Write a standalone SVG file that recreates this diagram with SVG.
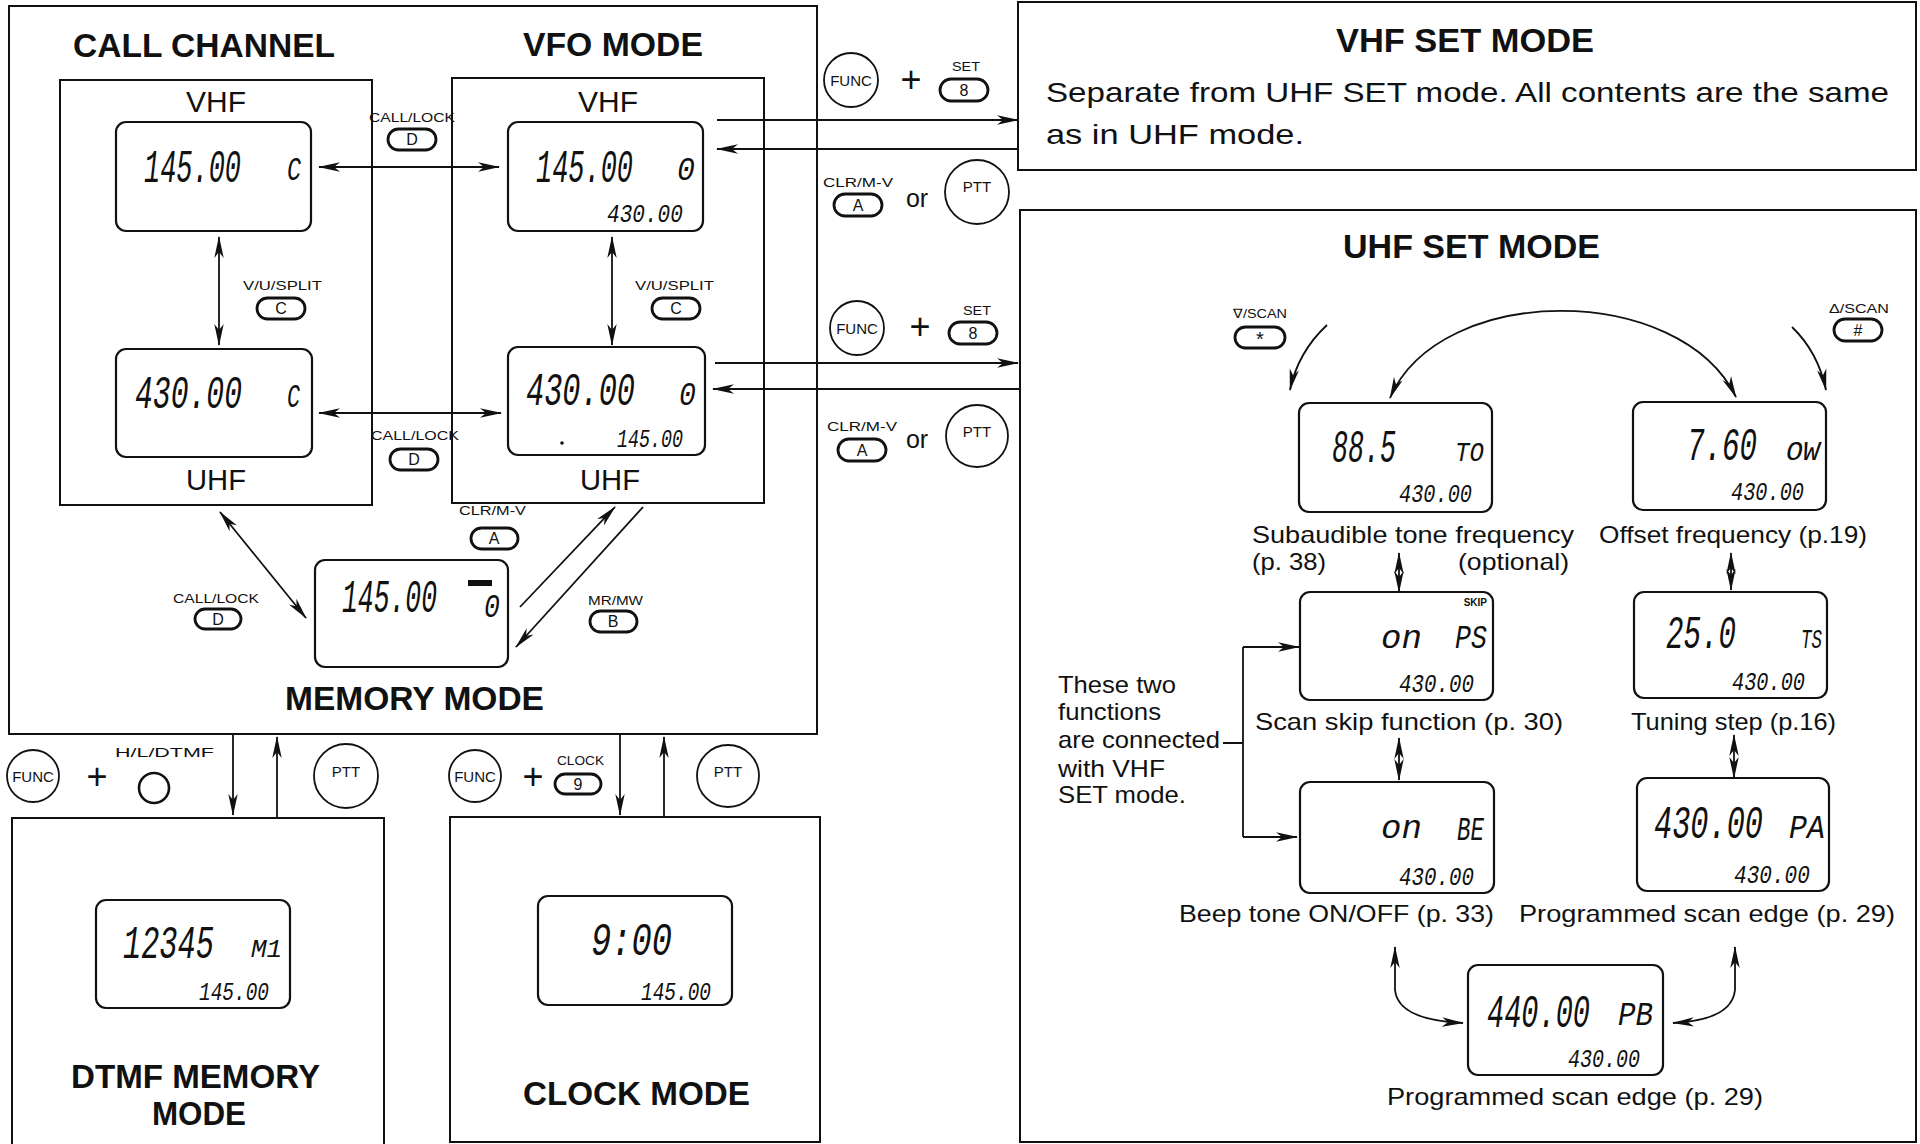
<svg xmlns="http://www.w3.org/2000/svg" width="1920" height="1144" viewBox="0 0 1920 1144">
<defs>
<marker id="ah" viewBox="0 0 22 11" refX="21" refY="5.5" markerWidth="22" markerHeight="11" markerUnits="userSpaceOnUse" orient="auto-start-reverse"><path d="M0,0.8 L22,5.5 L0,10.2 L6,5.5 z" fill="#111"/></marker>
</defs>
<style>
.box{fill:none;stroke:#111;stroke-width:2}
.lcd{fill:#fff;stroke:#111;stroke-width:2.2}
.t{font-family:"Liberation Sans",Arial,sans-serif;fill:#111}
.title{font-weight:bold;font-size:34px}
.lab{font-size:30px}
.cap{font-size:24px}
.key{font-size:13px}
.bl{font-size:16px;text-anchor:middle}
.mid{text-anchor:middle}
.big{font-family:"Liberation Mono","DejaVu Sans Mono",monospace;font-style:italic;font-size:46px;fill:#111}
.sm{font-family:"Liberation Mono","DejaVu Sans Mono",monospace;font-style:italic;font-size:26px;fill:#111}
.mk{font-family:"Liberation Mono","DejaVu Sans Mono",monospace;font-style:italic;font-size:34px;fill:#111}
.mk2{font-family:"Liberation Mono","DejaVu Sans Mono",monospace;font-style:italic;font-size:28px;fill:#111}
.ln{fill:none;stroke:#111;stroke-width:1.8}
.ar{fill:none;stroke:#111;stroke-width:1.8;marker-end:url(#ah)}
.ar2{fill:none;stroke:#111;stroke-width:1.8;marker-start:url(#ah);marker-end:url(#ah)}
.btn{fill:#fff;stroke:#111;stroke-width:2.8}
.circ{fill:#fff;stroke:#111;stroke-width:1.8}
</style>
<rect width="1920" height="1144" fill="#fff"/>

<g id="frames">
<rect class="box" x="9" y="6" width="808" height="728"/>
<rect class="box" x="1018" y="2" width="898" height="168"/>
<rect class="box" x="1020" y="210" width="896" height="932"/>
<path class="box" d="M12,1144 L12,818 L384,818 L384,1144"/>
<rect class="box" x="450" y="817" width="370" height="325"/>
</g>

<g id="titles" class="t">
<text class="title" x="73" y="57" textLength="262" lengthAdjust="spacingAndGlyphs">CALL CHANNEL</text>
<text class="title" x="523" y="56" textLength="180" lengthAdjust="spacingAndGlyphs">VFO MODE</text>
<text class="title" x="285" y="710" textLength="259" lengthAdjust="spacingAndGlyphs">MEMORY MODE</text>
<text class="title" x="1336" y="52" textLength="258" lengthAdjust="spacingAndGlyphs">VHF SET MODE</text>
<text class="title" x="1343" y="258" textLength="257" lengthAdjust="spacingAndGlyphs">UHF SET MODE</text>
<text class="title" x="71" y="1088" textLength="249" lengthAdjust="spacingAndGlyphs">DTMF MEMORY</text>
<text class="title" x="152" y="1125" textLength="94" lengthAdjust="spacingAndGlyphs">MODE</text>
<text class="title" x="523" y="1105" textLength="227" lengthAdjust="spacingAndGlyphs">CLOCK MODE</text>
<text class="cap" x="1046" y="102" textLength="843" lengthAdjust="spacingAndGlyphs" style="font-size:28px">Separate from UHF SET mode. All contents are the same</text>
<text class="cap" x="1046" y="144" textLength="258" lengthAdjust="spacingAndGlyphs" style="font-size:28px">as in UHF mode.</text>
</g>

<g id="call-channel">
<rect class="box" x="60" y="80" width="312" height="425"/>
<text class="t lab" x="186" y="112" textLength="60" lengthAdjust="spacingAndGlyphs">VHF</text>
<text class="t lab" x="186" y="490" textLength="60" lengthAdjust="spacingAndGlyphs">UHF</text>
<g id="cc-vhf-lcd">
<rect class="lcd" x="116" y="122" width="195" height="109" rx="10"/>
<text class="big" transform="translate(144,182) scale(0.586,1)">145.00</text>
<text class="mk" transform="translate(287,180) scale(0.69,1)">C</text>
</g>
<g id="cc-uhf-lcd">
<rect class="lcd" x="116" y="349" width="196" height="108" rx="10"/>
<text class="big" transform="translate(135,408) scale(0.646,1)">430.00</text>
<text class="mk" transform="translate(287,407) scale(0.64,1)">C</text>
</g>
</g>

<g id="vfo-mode">
<rect class="box" x="452" y="78" width="312" height="425"/>
<text class="t lab" x="578" y="112" textLength="60" lengthAdjust="spacingAndGlyphs">VHF</text>
<text class="t lab" x="580" y="490" textLength="60" lengthAdjust="spacingAndGlyphs">UHF</text>
<g id="vfo-vhf-lcd">
<rect class="lcd" x="508" y="122" width="195" height="109" rx="10"/>
<text class="big" transform="translate(536,182) scale(0.586,1)">145.00</text>
<text class="mk" transform="translate(677,180) scale(0.88,1)">0</text>
<text class="sm" transform="translate(607,222) scale(0.81,1)">430.00</text>
</g>
<g id="vfo-uhf-lcd">
<rect class="lcd" x="508" y="347" width="197" height="108" rx="10"/>
<text class="big" transform="translate(526,405) scale(0.658,1)">430.00</text>
<text class="mk" transform="translate(679,405) scale(0.83,1)">0</text>
<circle cx="562" cy="443" r="1.8" fill="#111"/>
<text class="sm" transform="translate(617,447) scale(0.705,1)">145.00</text>
</g>
</g>

<g id="memory-mode">
<rect class="lcd" x="315" y="560" width="193" height="107" rx="10"/>
<text class="big" transform="translate(342,612) scale(0.574,1)">145.00</text>
<rect x="468" y="580" width="24" height="6" fill="#111"/>
<text class="mk" transform="translate(484,617) scale(0.78,1)">0</text>
</g>

<g id="dtmf-memory-mode">
<rect class="lcd" x="96" y="900" width="194" height="108" rx="10"/>
<text class="big" transform="translate(123,958) scale(0.659,1)">12345</text>
<text class="sm" transform="translate(251,957)">M1</text>
<text class="sm" transform="translate(199,1000) scale(0.748,1)">145.00</text>
</g>

<g id="clock-mode">
<rect class="lcd" x="538" y="896" width="194" height="109" rx="10"/>
<text class="big" transform="translate(591,955) scale(0.734,1)">9:00</text>
<text class="sm" transform="translate(641,1000) scale(0.748,1)">145.00</text>
</g>

<g id="uhf-set-lcds">
<g id="lcd-tone">
<rect class="lcd" x="1299" y="403" width="193" height="109" rx="10"/>
<text class="big" transform="translate(1332,462) scale(0.58,1)">88.5</text>
<text class="mk2" transform="translate(1455,461) scale(0.86,1)">TO</text>
<text class="sm" transform="translate(1399,502) scale(0.78,1)">430.00</text>
</g>
<g id="lcd-offset">
<rect class="lcd" x="1633" y="402" width="193" height="108" rx="10"/>
<text class="big" transform="translate(1687,460) scale(0.634,1)">7.60</text>
<text class="mk2" transform="translate(1786,460)">OW</text>
<text class="sm" transform="translate(1731,500) scale(0.78,1)">430.00</text>
</g>
<g id="lcd-skip">
<rect class="lcd" x="1300" y="592" width="193" height="108" rx="10"/>
<text class="t" x="1487" y="606" style="font-size:10px;font-weight:bold;text-anchor:end">SKIP</text>
<text class="mk" transform="translate(1381,648)">on</text>
<text class="mk" transform="translate(1455,648) scale(0.78,1)">PS</text>
<text class="sm" transform="translate(1399,692) scale(0.8,1)">430.00</text>
</g>
<g id="lcd-step">
<rect class="lcd" x="1634" y="592" width="193" height="106" rx="10"/>
<text class="big" transform="translate(1666,648) scale(0.634,1)">25.0</text>
<text class="mk2" transform="translate(1801,648) scale(0.625,1)">TS</text>
<text class="sm" transform="translate(1732,690) scale(0.78,1)">430.00</text>
</g>
<g id="lcd-beep">
<rect class="lcd" x="1300" y="782" width="194" height="111" rx="10"/>
<text class="mk" transform="translate(1381,838)">on</text>
<text class="mk" transform="translate(1457,840) scale(0.66,1)">BE</text>
<text class="sm" transform="translate(1399,885) scale(0.8,1)">430.00</text>
</g>
<g id="lcd-pa">
<rect class="lcd" x="1637" y="778" width="192" height="113" rx="10"/>
<text class="big" transform="translate(1654,838) scale(0.658,1)">430.00</text>
<text class="mk" transform="translate(1789,838) scale(0.88,1)">PA</text>
<text class="sm" transform="translate(1734,883) scale(0.81,1)">430.00</text>
</g>
<g id="lcd-pb">
<rect class="lcd" x="1468" y="965" width="195" height="110" rx="10"/>
<text class="big" transform="translate(1487,1027) scale(0.622,1)">440.00</text>
<text class="mk" transform="translate(1618,1025) scale(0.86,1)">PB</text>
<text class="sm" transform="translate(1568,1067) scale(0.77,1)">430.00</text>
</g>
</g>

<g id="captions" class="t">
<text class="cap" x="1252" y="543" textLength="322" lengthAdjust="spacingAndGlyphs">Subaudible tone frequency</text>
<text class="cap" x="1252" y="570" textLength="74" lengthAdjust="spacingAndGlyphs">(p. 38)</text>
<text class="cap" x="1458" y="570" textLength="111" lengthAdjust="spacingAndGlyphs">(optional)</text>
<text class="cap" x="1599" y="543" textLength="268" lengthAdjust="spacingAndGlyphs">Offset frequency (p.19)</text>
<text class="cap" x="1255" y="730" textLength="308" lengthAdjust="spacingAndGlyphs">Scan skip function (p. 30)</text>
<text class="cap" x="1631" y="730" textLength="205" lengthAdjust="spacingAndGlyphs">Tuning step (p.16)</text>
<text class="cap" x="1179" y="922" textLength="315" lengthAdjust="spacingAndGlyphs">Beep tone ON/OFF (p. 33)</text>
<text class="cap" x="1519" y="922" textLength="376" lengthAdjust="spacingAndGlyphs">Programmed scan edge (p. 29)</text>
<text class="cap" x="1387" y="1105" textLength="376" lengthAdjust="spacingAndGlyphs">Programmed scan edge (p. 29)</text>
<text class="cap" x="1058" y="693" textLength="118" lengthAdjust="spacingAndGlyphs">These two</text>
<text class="cap" x="1058" y="720" textLength="103" lengthAdjust="spacingAndGlyphs">functions</text>
<text class="cap" x="1058" y="748" textLength="162" lengthAdjust="spacingAndGlyphs">are connected</text>
<text class="cap" x="1058" y="777" textLength="107" lengthAdjust="spacingAndGlyphs">with VHF</text>
<text class="cap" x="1058" y="803" textLength="128" lengthAdjust="spacingAndGlyphs">SET mode.</text>
</g>

<g id="keys">
<g class="t key">
<text x="369" y="122" textLength="86" lengthAdjust="spacingAndGlyphs">CALL/LOCK</text>
<text x="371" y="440" textLength="88" lengthAdjust="spacingAndGlyphs">CALL/LOCK</text>
<text x="243" y="290" textLength="79" lengthAdjust="spacingAndGlyphs">V/U/SPLIT</text>
<text x="635" y="290" textLength="79" lengthAdjust="spacingAndGlyphs">V/U/SPLIT</text>
<text x="173" y="603" textLength="86" lengthAdjust="spacingAndGlyphs">CALL/LOCK</text>
<text x="459" y="515" textLength="67" lengthAdjust="spacingAndGlyphs">CLR/M-V</text>
<text x="588" y="605" textLength="55" lengthAdjust="spacingAndGlyphs">MR/MW</text>
<text x="952" y="71" textLength="28" lengthAdjust="spacingAndGlyphs">SET</text>
<text x="823" y="187" textLength="70" lengthAdjust="spacingAndGlyphs">CLR/M-V</text>
<text x="963" y="315" textLength="28" lengthAdjust="spacingAndGlyphs">SET</text>
<text x="827" y="431" textLength="70" lengthAdjust="spacingAndGlyphs">CLR/M-V</text>
<text x="115" y="757" textLength="99" lengthAdjust="spacingAndGlyphs">H/L/DTMF</text>
<text x="557" y="765" textLength="47" lengthAdjust="spacingAndGlyphs">CLOCK</text>
<text x="1233" y="318" textLength="54" lengthAdjust="spacingAndGlyphs">∇/SCAN</text>
<text x="1829" y="313" textLength="60" lengthAdjust="spacingAndGlyphs">Δ/SCAN</text>
</g>
<g id="btn-d1"><rect class="btn" x="388" y="129" width="48" height="21" rx="10.5"/><text class="t bl" x="412" y="145">D</text></g>
<g id="btn-d2"><rect class="btn" x="390" y="449" width="48" height="21" rx="10.5"/><text class="t bl" x="414" y="465">D</text></g>
<g id="btn-c1"><rect class="btn" x="257" y="298" width="48" height="21" rx="10.5"/><text class="t bl" x="281" y="314">C</text></g>
<g id="btn-c2"><rect class="btn" x="652" y="298" width="48" height="21" rx="10.5"/><text class="t bl" x="676" y="314">C</text></g>
<g id="btn-d3"><rect class="btn" x="195" y="609" width="46" height="20" rx="10"/><text class="t bl" x="218" y="625">D</text></g>
<g id="btn-a1"><rect class="btn" x="471" y="528" width="47" height="21" rx="10.5"/><text class="t bl" x="494" y="544">A</text></g>
<g id="btn-b"><rect class="btn" x="590" y="611" width="47" height="21" rx="10.5"/><text class="t bl" x="613" y="627">B</text></g>
<g id="btn-81"><rect class="btn" x="940" y="79" width="48" height="22" rx="11"/><text class="t bl" x="964" y="96">8</text></g>
<g id="btn-a2"><rect class="btn" x="834" y="194" width="48" height="22" rx="11"/><text class="t bl" x="858" y="211">A</text></g>
<g id="btn-82"><rect class="btn" x="949" y="322" width="48" height="22" rx="11"/><text class="t bl" x="973" y="339">8</text></g>
<g id="btn-a3"><rect class="btn" x="838" y="439" width="48" height="22" rx="11"/><text class="t bl" x="862" y="456">A</text></g>
<g id="btn-9"><rect class="btn" x="555" y="774" width="46" height="20" rx="10"/><text class="t bl" x="578" y="790">9</text></g>
<g id="btn-star"><rect class="btn" x="1235" y="327" width="50" height="21" rx="10.5"/><text class="t bl" x="1260" y="346" style="font-size:20px">*</text></g>
<g id="btn-hash"><rect class="btn" x="1834" y="319" width="48" height="22" rx="11"/><text class="t bl" x="1858" y="336">#</text></g>
<circle id="btn-hl" cx="154" cy="788" r="15" fill="#fff" stroke="#111" stroke-width="2.6"/>
<g id="func1"><circle class="circ" cx="851" cy="80" r="27"/><text class="t mid" x="851" y="86" style="font-size:15px">FUNC</text></g>
<g id="ptt1"><circle class="circ" cx="977" cy="192" r="32"/><text class="t mid" x="977" y="192" style="font-size:15px">PTT</text></g>
<g id="func2"><circle class="circ" cx="857" cy="328" r="27"/><text class="t mid" x="857" y="334" style="font-size:15px">FUNC</text></g>
<g id="ptt2"><circle class="circ" cx="977" cy="436" r="31"/><text class="t mid" x="977" y="437" style="font-size:15px">PTT</text></g>
<g id="func3"><circle class="circ" cx="33" cy="776" r="26"/><text class="t mid" x="33" y="782" style="font-size:15px">FUNC</text></g>
<g id="ptt3"><circle class="circ" cx="346" cy="776" r="32"/><text class="t mid" x="346" y="777" style="font-size:15px">PTT</text></g>
<g id="func4"><circle class="circ" cx="475" cy="776" r="26"/><text class="t mid" x="475" y="782" style="font-size:15px">FUNC</text></g>
<g id="ptt4"><circle class="circ" cx="728" cy="776" r="31"/><text class="t mid" x="728" y="777" style="font-size:15px">PTT</text></g>
<g class="t mid" style="font-size:36px">
<text x="911" y="92">+</text>
<text x="920" y="339">+</text>
<text x="97" y="789">+</text>
<text x="533" y="789">+</text>
</g>
<g class="t mid" style="font-size:25px">
<text x="917" y="207">or</text>
<text x="917" y="448">or</text>
</g>
</g>

<g id="connectors">
<line class="ar2" x1="319" y1="167" x2="499" y2="167"/>
<line class="ar2" x1="319" y1="413" x2="501" y2="413"/>
<line class="ar2" x1="219" y1="237" x2="219" y2="345"/>
<line class="ar2" x1="612" y1="237" x2="612" y2="345"/>
<line class="ar2" x1="220" y1="512" x2="306" y2="618"/>
<line class="ar" x1="520" y1="607" x2="615" y2="507"/>
<line class="ar" x1="643" y1="507" x2="516" y2="647"/>
<line class="ar" x1="717" y1="120" x2="1018" y2="120"/>
<line class="ar" x1="1018" y1="149" x2="717" y2="149"/>
<line class="ar" x1="715" y1="363" x2="1018" y2="363"/>
<line class="ar" x1="1020" y1="389" x2="713" y2="389"/>
<line class="ar" x1="233" y1="734" x2="233" y2="815"/>
<line class="ar" x1="277" y1="818" x2="277" y2="737"/>
<line class="ar" x1="620" y1="734" x2="620" y2="815"/>
<line class="ar" x1="664" y1="817" x2="664" y2="737"/>
<path class="ar" d="M1327,325 Q1298,352 1290,390"/>
<path class="ar" d="M1792,327 Q1818,352 1826,390"/>
<path class="ar2" d="M1390,398 C1440,282 1680,282 1736,397"/>
<line class="ar2" x1="1399" y1="553" x2="1399" y2="592"/>
<line class="ar2" x1="1731" y1="553" x2="1731" y2="590"/>
<line class="ar2" x1="1399" y1="738" x2="1399" y2="780"/>
<line class="ar2" x1="1734" y1="735" x2="1734" y2="778"/>
<path class="ln" d="M1223,743 L1243,743 M1243,647 L1243,837"/>
<line class="ar" x1="1243" y1="647" x2="1299" y2="647"/>
<line class="ar" x1="1243" y1="837" x2="1297" y2="837"/>
<path class="ar2" d="M1395,947 L1395,990 Q1398,1020 1463,1023"/>
<path class="ar2" d="M1735,947 L1735,990 Q1732,1020 1673,1023"/>
</g>
</svg>
